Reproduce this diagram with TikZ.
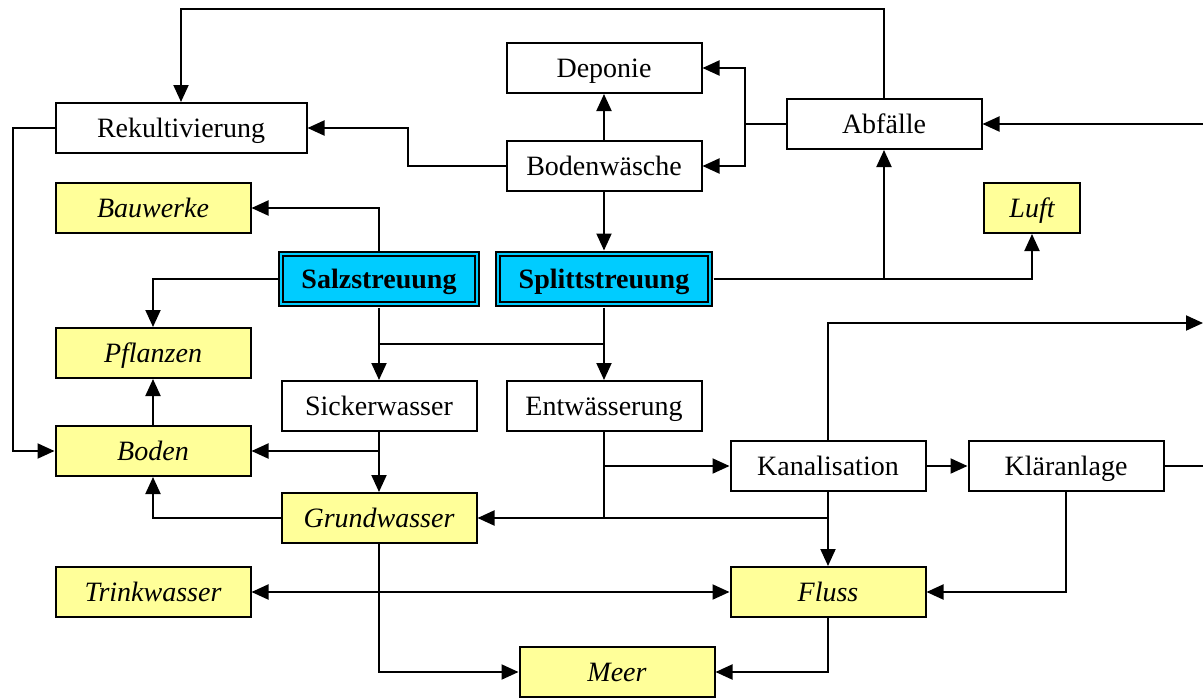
\documentclass[tikz,border=0pt]{standalone}
\usepackage{fontspec}
\setmainfont{Liberation Serif}
\usetikzlibrary{arrows.meta,calc}
\definecolor{gelb}{RGB}{255,255,153}
\definecolor{blau}{RGB}{0,204,255}
\begin{document}
\begin{tikzpicture}[x=1pt, y=-1pt, line join=miter, font=\fontsize{28}{32}\selectfont,
	box/.style={draw, line width=2pt, minimum width=195pt, minimum height=50pt, inner sep=0pt, fill=white,
		text height=18pt, text depth=0pt},
	gbox/.style={box, fill=gelb, font=\fontsize{28}{32}\selectfont\itshape},
	sbox/.style={draw, line width=2pt, double=blau, double distance=2.5pt, fill=blau, minimum height=50pt,
		inner sep=0pt, outer sep=3.5pt, text height=18pt, text depth=0pt, font=\fontsize{28}{32}\selectfont\bfseries},
	arr/.style={line width=2pt, -{Triangle[length=17pt,width=15pt]}},
	arr2/.style={line width=2pt, {Triangle[length=17pt,width=15pt]}-{Triangle[length=17pt,width=15pt]}},
	ln/.style={line width=2pt}]
	\useasboundingbox[fill=white] (0,0) rectangle (1203,697);
	% Knoten
	\node[box] (deponie) at (604,68) {Deponie};
	\node[box] (waesche) at (604,166) {Bodenwäsche};
	\node[box, minimum width=251pt] (rekult) at (181,128) {Rekultivierung};
	\node[box] (abfall) at (884,124) {Abfälle};
	\node[gbox] (bauwerk) at (153,208) {Bauwerke};
	\node[gbox, minimum width=96pt] (luft) at (1032,208) {Luft};
	\node[sbox, minimum width=196pt] (salz) at (379,279) {Salzstreuung};
	\node[sbox, minimum width=212pt] (splitt) at (604,279) {Splittstreuung};
	\node[gbox] (pflanze) at (153,353) {Pflanzen};
	\node[box] (sicker) at (379,406) {Sickerwasser};
	\node[box] (entw) at (604,406) {Entwässerung};
	\node[gbox] (boden) at (153,451) {Boden};
	\node[box] (kanal) at (828,466) {Kanalisation};
	\node[box] (klaer) at (1066,466) {Kläranlage};
	\node[gbox] (grund) at (379,518) {Grundwasser};
	\node[gbox] (trink) at (153,592) {Trinkwasser};
	\node[gbox] (fluss) at (828,592) {Fluss};
	\node[gbox] (meer) at (617,672) {Meer};
	\coordinate (inA) at (1203,124);
	\coordinate (outR) at (1203,323);
	\coordinate (outK) at (1203,466);
	% Verbindungen oben
	\draw[arr] (abfall.north) -- ++(0,-89) -| (rekult.north);
	\draw[arr] (abfall.west) -- ++(-41,0) |- (deponie.east);
	\draw[arr] (abfall.west) -- ++(-41,0) |- (waesche.east);
	\draw[arr] (inA) -- (abfall.east);
	\draw[arr] (waesche.north) -- (deponie.south);
	\draw[arr] (waesche.west) -- ++(-98,0) |- (rekult.east);
	\draw[arr] (waesche.south) -- (splitt.north);
	\draw[arr] (salz.north) |- (bauwerk.east);
	\draw[arr] (salz.west) -| (pflanze.north);
	\draw[arr] (splitt.east) -| (abfall.south);
	\draw[arr] (splitt.east) -| (luft.south);
	% Verbindungen Mitte
	\draw[arr] (salz.south) -- (sicker.north);
	\draw[arr] (splitt.south) -- (entw.north);
	\draw[ln] ($(salz.south)!.5!(sicker.north)$) -- ($(splitt.south)!.5!(entw.north)$);
	\draw[arr] (kanal.north) |- (outR);
	\draw[arr] (rekult.west) -- ++(-42,0) |- (boden.west);
	\draw[arr] (boden.north) -- (pflanze.south);
	\draw[arr] (sicker.south) -- (grund.north);
	\draw[arr] (sicker.south |- boden.east) -- (boden.east);
	\draw[arr] (grund.west) -| (boden.south);
	\draw[arr] (entw.south) |- (grund.east);
	\draw[arr] (entw.south |- kanal.west) -- (kanal.west);
	\draw[ln] (entw.south |- grund.east) -| (kanal.south);
	\draw[arr] (kanal.south) -- (fluss.north);
	\draw[arr] (kanal.east) -- (klaer.west);
	\draw[ln] (klaer.east) -- (outK);
	% Verbindungen unten
	\draw[arr] (klaer.south) |- (fluss.east);
	\draw[arr2] (trink.east) -- (fluss.west);
	\draw[arr] (grund.south) |- (meer.west);
	\draw[arr] (fluss.south) |- (meer.east);
\end{tikzpicture}
\end{document}
